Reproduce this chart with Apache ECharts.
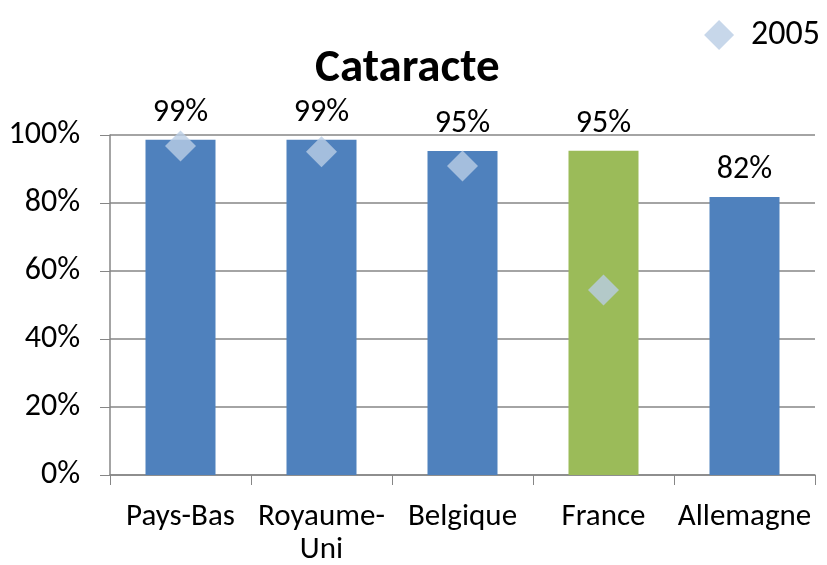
<!DOCTYPE html>
<html>
<head>
    <meta charset="utf-8">
    <script src="https://cdn.jsdelivr.net/npm/echarts@6/dist/echarts.min.js"></script>
</head>
<body>
    <div id="main"></div>
    <style>
html,body { margin: 0; padding: 0; background: #fff; }
#main { width: 827px; height: 565px; }
    </style>
    <script type="text/javascript">
var categories = ['Pays-Bas', 'Royaume-Uni', 'Belgique', 'France', 'Allemagne'];
var values = [98.6, 98.6, 95.3, 95.4, 81.8];
var values2005 = [96.8, 95.1, 90.9, 54.4, null];
var highlight = 'France';
var yTicks = [0, 20, 40, 60, 80, 100];

var font = 'Carlito, "Liberation Sans Narrow", "Open Sans", sans-serif';

function initialize() {
    var option = {
        animation: false,
        textStyle: { fontFamily: font },
        title: {
            text: 'Cataracte',
            left: 310,
            top: 41,
            textStyle: { fontSize: 47, fontWeight: 'bold', color: '#000', fontFamily: font }
        },
        legend: {
            data: [{ name: '2005', icon: 'diamond' }],
            right: 2,
            top: 13,
            itemWidth: 30,
            itemHeight: 30,
            textStyle: { fontSize: 34, color: '#000', fontFamily: font, padding: [0, 0, 0, 12] }
        },
        grid: {
            left: 110,
            right: 12,
            top: 135,
            bottom: 90,
            containLabel: false,
            outerBoundsMode: 'none'
        },
        xAxis: {
            type: 'category',
            data: categories,
            axisLine: { lineStyle: { color: '#868686', width: 1.5 } },
            axisTick: { show: true, length: 10, lineStyle: { color: '#868686' } },
            axisLabel: {
                color: '#000',
                fontSize: 31,
                margin: 26,
                lineHeight: 33,
                fontFamily: font,
                interval: 0,
                formatter: function (v) { return v.replace('-Uni', '-\nUni'); }
            }
        },
        yAxis: {
            type: 'value',
            min: yTicks[0],
            max: yTicks[yTicks.length - 1],
            interval: 20,
            axisLine: { show: true, lineStyle: { color: '#868686', width: 1.5 } },
            axisTick: { show: true, length: 10, lineStyle: { color: '#868686' } },
            splitLine: { lineStyle: { color: '#868686', width: 1.5 } },
            axisLabel: {
                color: '#000',
                fontSize: 32,
                margin: 30,
                fontFamily: font,
                formatter: '{value}%'
            }
        },
        series: [
            {
                name: 'Cataracte',
                type: 'bar',
                barWidth: 70,
                data: values.map(function (v, i) {
                    return {
                        value: v,
                        itemStyle: { color: categories[i] === highlight ? '#9BBB59' : '#4F81BD' }
                    };
                }),
                label: {
                    show: true,
                    position: 'top',
                    distance: 11,
                    color: '#000',
                    fontSize: 32,
                    fontFamily: font,
                    formatter: function (p) { return Math.round(p.value) + '%'; }
                },
                z: 2
            },
            {
                name: '2005',
                type: 'scatter',
                symbol: 'diamond',
                symbolSize: 31,
                data: values2005,
                itemStyle: { color: '#B9CDE5' },
                z: 3
            }
        ]
    };
    var chart = echarts.init(document.getElementById('main'));
    chart.setOption(option);
}
initialize();
    </script>
</body>
</html>
